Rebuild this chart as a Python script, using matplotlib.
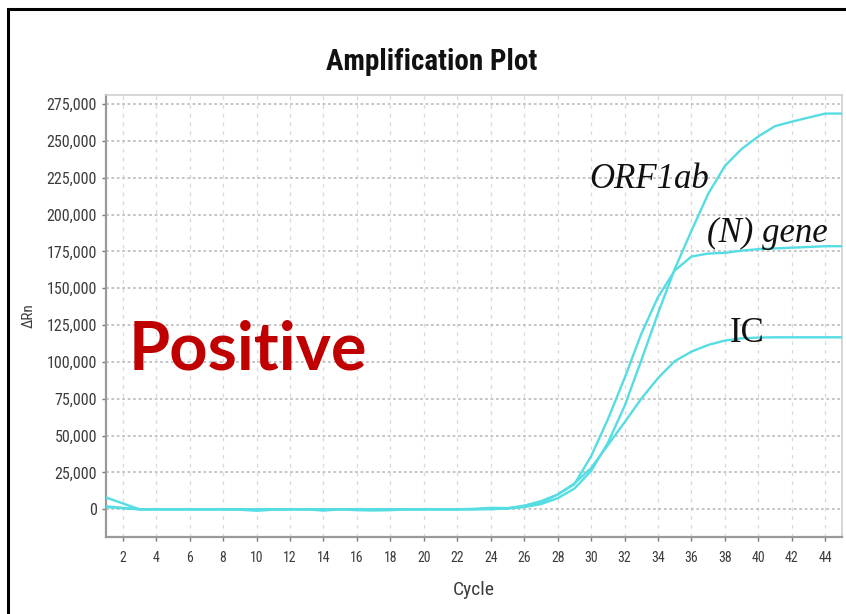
import os
import matplotlib
matplotlib.use("Agg")
import matplotlib.pyplot as plt
from matplotlib import font_manager as fm
from matplotlib.patches import Rectangle
from matplotlib.ticker import FuncFormatter

# ---- data -------------------------------------------------------------
cycles = list(range(1, 46))

orf1ab = [8000, 4000, 0, 0, 0, 0, 0, 0, 0, 0,
          0, 0, 0, 0, 0, -600, -800, -600, 0, 0,
          0, 0, 0, 500, 500, 1500, 3500, 7500, 14000, 26000,
          45000, 70000, 101000, 133000, 163000, 189000, 214000, 233000, 244500, 253000,
          260000, 263000, 265800, 268500, 268500]

n_gene = [2000, 1000, 0, 0, 0, 0, 0, 0, 0, 0,
          0, 0, 0, -900, 0, 0, 0, 0, 0, 0,
          0, 0, 300, 1000, 800, 2000, 4500, 10000, 17000, 36000,
          61000, 89000, 119000, 144000, 162000, 171500, 173500, 174000, 175500, 176500,
          177000, 177500, 178000, 178500, 178500]

ic = [1500, 700, 0, 0, 0, 0, 0, 0, -300, -1000,
      -300, 0, 0, 0, 0, 0, 0, 0, 0, 0,
      0, 0, 0, 0, 600, 2500, 5500, 10000, 17500, 28000,
      43500, 59000, 75000, 89000, 100500, 107000, 111500, 114500, 116000, 116500,
      116700, 116700, 116700, 116700, 116700]

x_ticks = list(range(2, 46, 2))
y_ticks = list(range(0, 275001, 25000))

curve_labels = ["ORF1ab", "(N) gene", "IC"]
label_pos = [(29.9, 218000), (36.9, 181300), (38.3, 113500)]
label_style = ["italic", "italic", "normal"]


# ---- fonts: look for an installed narrow/condensed sans face -----------
def narrow_font(bold):
    preferred = ["liberation sans narrow", "roboto condensed", "dejavu sans condensed",
                 "open sans condensed", "noto sans condensed", "arial narrow"]
    found = []
    for f in fm.fontManager.ttflist:
        name = f.name.lower()
        base = os.path.basename(f.fname).lower()
        narrowish = ("narrow" in name or "condensed" in name or "narrow" in base
                     or "condensed" in base
                     or f.stretch in ("condensed", "semi-condensed", "extra-condensed"))
        if not narrowish or "mono" in name or "serif" in name:
            continue
        if f.style != "normal" or "italic" in base or "oblique" in base:
            continue
        w = f.weight if isinstance(f.weight, int) else (700 if "bold" in str(f.weight) else 400)
        if "extra" in base and "condensed" in base and "semi" not in base:
            continue
        rank = next((i for i, p in enumerate(preferred) if p in name or p.replace(" ", "") in base),
                    len(preferred))
        found.append((rank, abs(w - (700 if bold else 400)), f.fname))
    if found:
        found.sort()
        return dict(fname=found[0][2])
    return dict(family="Liberation Sans", weight="bold" if bold else "normal")


def fprop(bold, size):
    return fm.FontProperties(size=size, **narrow_font(bold))


using_narrow = "fname" in narrow_font(False)

line_color = "#55dde3"
text_gray = "#3c3c3c"

fig = plt.figure(figsize=(8.46, 6.14), dpi=100)
fig.patch.set_facecolor("white")
ax = fig.add_axes([106 / 846, 1 - 536.7 / 614, (842 - 106) / 846, (536.7 - 95) / 614])

for series in (orf1ab, n_gene, ic):
    ax.plot(cycles, series, color=line_color, lw=1.7, solid_joinstyle="miter", zorder=3)

ax.set_xlim(1, 45)
ax.set_ylim(-18600, 281100)
ax.set_xticks(x_ticks)
ax.set_yticks(y_ticks)
ax.yaxis.set_major_formatter(FuncFormatter(lambda v, p: f"{int(v):,}"))

# grid: dotted horizontals, dashed verticals
ax.grid(axis="y", color="#c0c0c0", linestyle=(0, (1.5, 1.5)), lw=1.3, zorder=1)
ax.grid(axis="x", color="#d9d9d9", linestyle=(0, (3, 4)), lw=0.9, zorder=1)

for side in ("top", "right"):
    ax.spines[side].set_color("#cfcfcf")
    ax.spines[side].set_linewidth(1.2)
for side in ("left", "bottom"):
    ax.spines[side].set_color("#9a9a9a")
    ax.spines[side].set_linewidth(1.6)

ax.tick_params(axis="both", direction="out", length=3, width=1, color="#777777",
               labelcolor=text_gray)
ax.tick_params(axis="x", pad=7)
ytick_fp = fprop(False, 11.5 if using_narrow else 9.5)
xtick_fp = fprop(False, 10 if using_narrow else 8.5)
for lab in ax.get_yticklabels():
    lab.set_fontproperties(ytick_fp)
for lab in ax.get_xticklabels():
    lab.set_fontproperties(xtick_fp)

ax.set_xlabel("Cycle", color=text_gray, labelpad=12,
              fontproperties=fprop(False, 14 if using_narrow else 12))
ax.set_ylabel("\u0394Rn", color=text_gray, labelpad=8,
              fontproperties=fprop(False, 11 if using_narrow else 10))

fig.text(432 / 846, 1 - 62 / 614, "Amplification Plot", ha="center", va="center",
         color="#111111", fontproperties=fprop(True, 21 if using_narrow else 18))

# curve labels
for text, (cx, cy), style in zip(curve_labels, label_pos, label_style):
    ax.text(cx, cy, text, fontsize=25, family="Liberation Serif", style=style,
            color="#111111", ha="left", va="baseline", zorder=4)

ax.text(2.35, 95000, "Positive", fontsize=48, fontweight="bold", family="Lato",
        color="#c00000", ha="left", va="baseline", zorder=4)

# outer frame
fig.patches.append(Rectangle((8 / 846, -0.05), 1.1, 605 / 614 + 0.05,
                             transform=fig.transFigure, fill=False,
                             edgecolor="black", lw=2.2, zorder=0))

fig.savefig("out.png", dpi=100)
